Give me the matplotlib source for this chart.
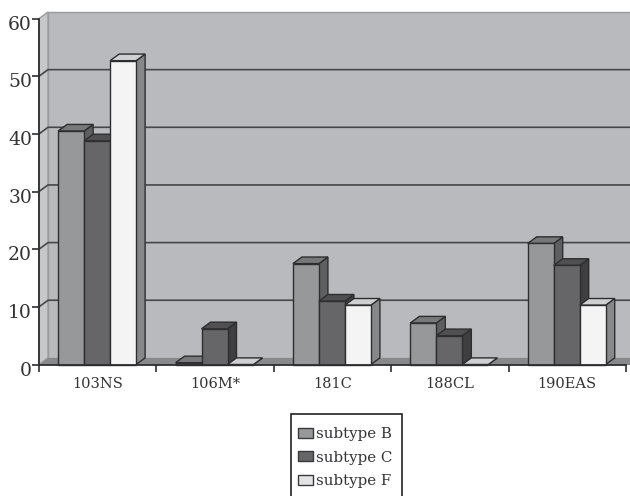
import matplotlib
matplotlib.use("Agg")
import matplotlib.pyplot as plt
from matplotlib.patches import Polygon, Patch, Rectangle
from matplotlib.transforms import ScaledTranslation

categories = ["103NS", "106M*", "181C", "188CL", "190EAS"]
series_names = ["subtype B", "subtype C", "subtype F"]
subtype_b = [40.5, 0.3, 17.5, 7.2, 21.0]
subtype_c = [38.8, 6.2, 11.0, 5.0, 17.2]
subtype_f = [52.7, 0.0, 10.3, 0.0, 10.3]
y_ticks = [0, 10, 20, 30, 40, 50, 60]

# front, top, side shades
shades = [("#97989a", "#77787a", "#5e5f61"),
          ("#666668", "#505052", "#3f3f41"),
          ("#f4f4f5", "#cfd0d2", "#87888a")]
EDGE = "#2e2e30"
WALL = "#b9babe"
SIDE_WALL = "#c6c7c9"
FLOOR = "#88898b"
GRID = "#47474a"
TEXT = "#333335"

plt.rcParams["font.family"] = ["DejaVu Serif"]
W, H = 630, 496
fig = plt.figure(figsize=(W / 100, H / 100), dpi=100)
L, R, T, B = 39, 626, 18.6, 364.5
ax = fig.add_axes([L / W, 1 - B / H, (R - L) / W, (B - T) / H])
ax.set_xlim(0, 5)
ax.set_ylim(0, 60)
ax.patch.set_alpha(0)

dx = 9 / ((R - L) / 5)     # depth of the 3-D effect, in data units
dy = 6.6 / ((B - T) / 60)
xmax = (631 - L) / ((R - L) / 5)


def poly(points, fc, ec=EDGE, lw=1.0, z=2):
    ax.add_patch(Polygon(points, closed=True, fc=fc, ec=ec, lw=lw, zorder=z, clip_on=False))


# walls and floor
poly([(dx, dy), (xmax, dy), (xmax, 60 + dy), (dx, 60 + dy)], WALL, ec="#9a9b9d", lw=1, z=0.5)
poly([(0, 0), (dx, dy), (dx, 60 + dy), (0, 60)], SIDE_WALL, ec="#9a9b9d", lw=1, z=0.5)
poly([(0, 0), (xmax, 0), (xmax, dy), (dx, dy)], FLOOR, ec="none", lw=0, z=0.6)
for t in y_ticks[1:-1]:
    ax.plot([0, dx, xmax], [t, t + dy, t + dy], color=GRID, lw=1.2, zorder=1, clip_on=False)

# bars
width = 26.0 / ((R - L) / 5)
for k, vals in enumerate([subtype_b, subtype_c, subtype_f]):
    front, top, side = shades[k]
    for i, v in enumerate(vals):
        x0 = i + 0.495 + (k - 1.5) * width
        x1 = x0 + width
        z = 2 + k * 0.1
        poly([(x1, 0), (x1 + dx, dy), (x1 + dx, v + dy), (x1, v)], side, z=z)
        poly([(x0, v), (x1, v), (x1 + dx, v + dy), (x0 + dx, v + dy)], top, z=z)
        poly([(x0, 0), (x1, 0), (x1, v), (x0, v)], front, z=z)

ax.spines[["top", "right"]].set_visible(False)
for s in ["left", "bottom"]:
    ax.spines[s].set_color(EDGE)
    ax.spines[s].set_linewidth(1.3)
    ax.spines[s].set_zorder(5)

ax.set_yticks(y_ticks)
ax.tick_params(axis="y", length=5, width=1.2, color=EDGE, labelcolor=TEXT,
               labelsize=13.5, pad=0)
shift = ScaledTranslation(0, -3 / 72, fig.dpi_scale_trans)
for lab in ax.get_yticklabels():
    lab.set_transform(lab.get_transform() + shift)
ax.set_xticks(range(6))
ax.set_xticklabels([])
ax.set_xticks([i + 0.5 for i in range(5)], categories, minor=True)
ax.tick_params(axis="x", which="major", length=5, width=1.2, color=EDGE)
ax.tick_params(axis="x", which="minor", length=0, labelsize=10.5, labelcolor=TEXT, pad=9)

# legend frame runs off the bottom of the picture, as in the reference
fig.add_artist(Rectangle((291 / W, -0.02), 111 / W, 1 - 414 / H + 0.02, transform=fig.transFigure,
                         fc="white", ec="#222222", lw=1.2))
handles = [Patch(fc=shades[k][0] if k < 2 else "#e2e3e4", ec="#3a3a3c", lw=1.0, label=series_names[k])
           for k in range(3)]
leg = fig.legend(handles=handles, loc="upper left", bbox_to_anchor=(298 / W, 1 - 427 / H),
                 borderaxespad=0, fontsize=10.8, frameon=False, labelcolor=TEXT,
                 handlelength=1.0, handleheight=0.65, handletextpad=0.2,
                 labelspacing=0.65, borderpad=0)

fig.savefig("out.png", dpi=100)
